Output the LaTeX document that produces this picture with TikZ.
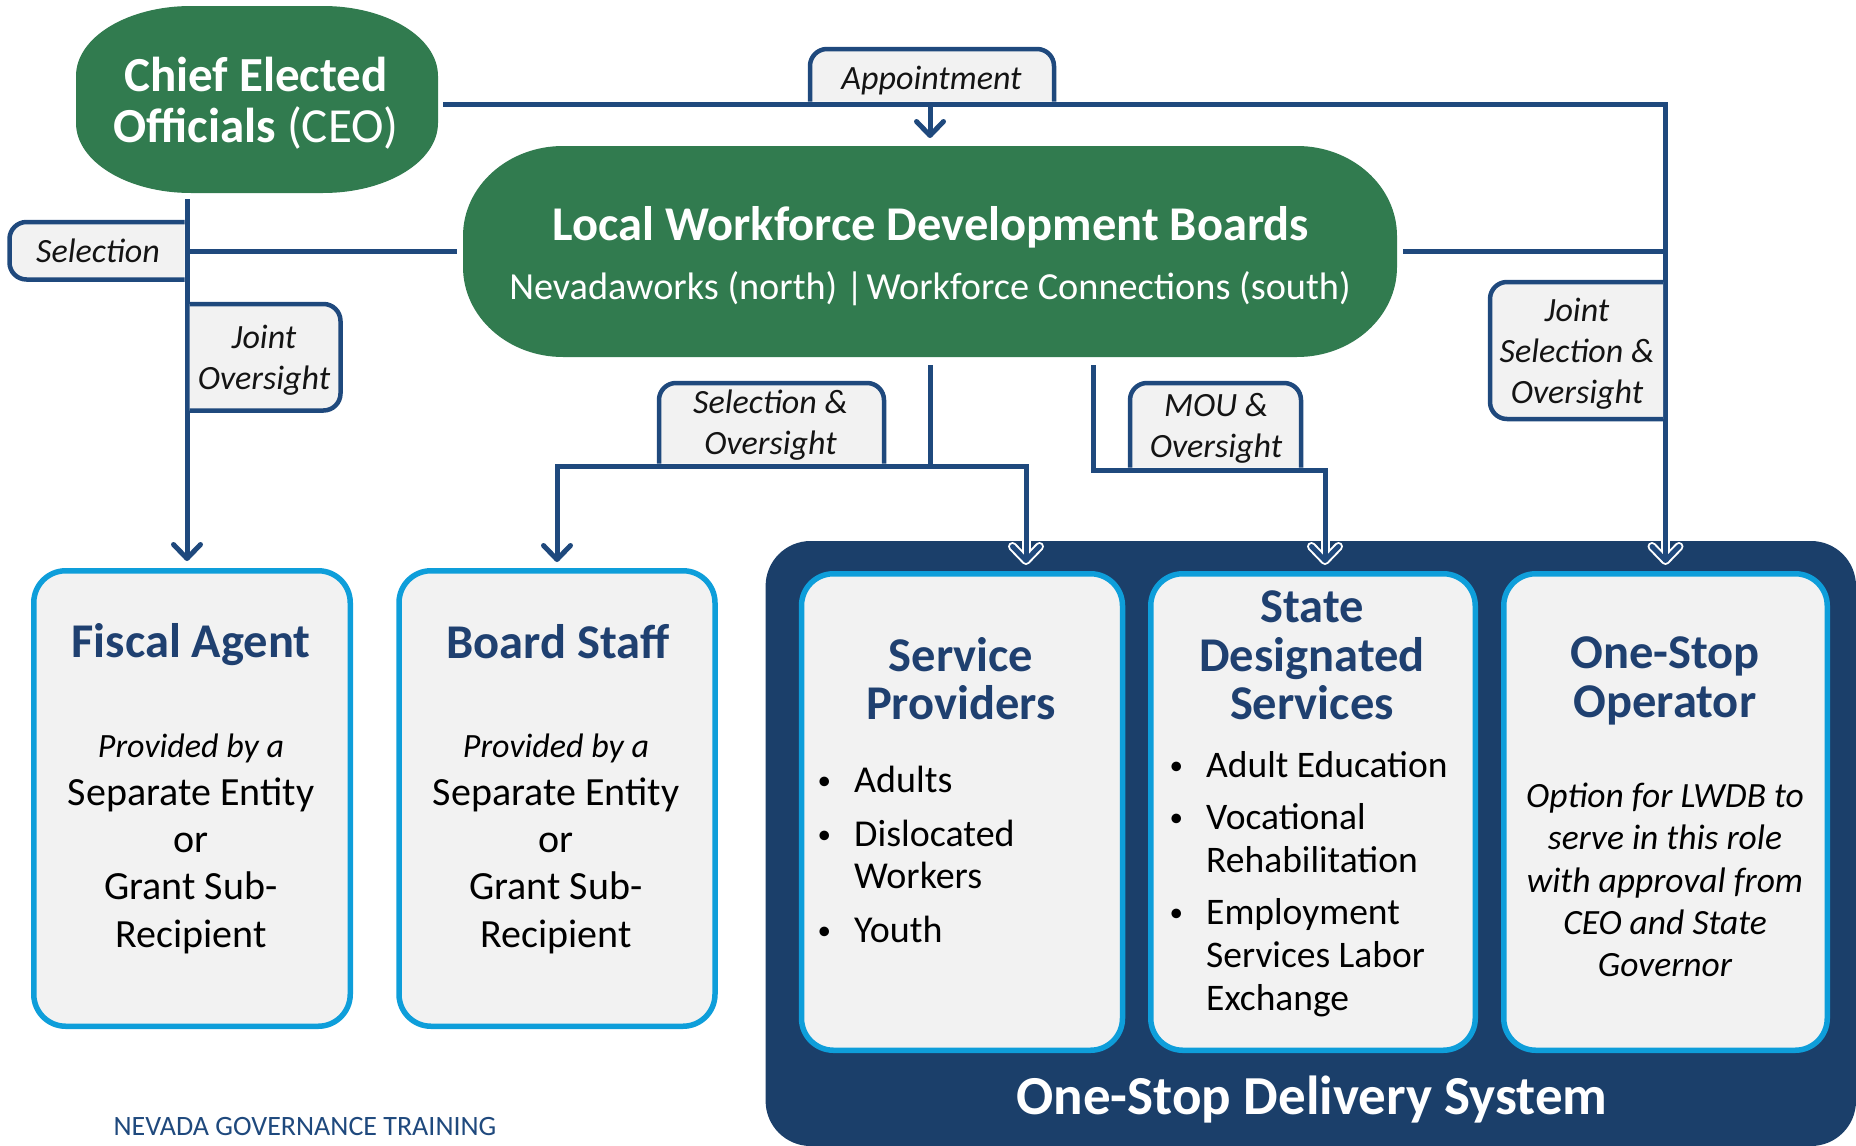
\documentclass[tikz,border=0pt]{standalone}
\usepackage{fontspec}
\setmainfont{Carlito}
\usetikzlibrary{arrows.meta}
\definecolor{ceogreen}{RGB}{49,123,79}
\definecolor{linenavy}{RGB}{31,73,125}
\definecolor{darkbox}{RGB}{27,63,106}
\definecolor{boxblue}{RGB}{14,158,218}
\definecolor{titlenavy}{RGB}{31,64,112}
\definecolor{boxfill}{RGB}{242,242,242}
\definecolor{labeltext}{RGB}{20,20,20}
\newcommand\bulmark{\makebox[39.5pt][l]{\hspace{3pt}\raisebox{3pt}{\fontsize{27}{27}\selectfont\textbullet}}}
\newcommand\bulgap{\hspace*{39.5pt}}
\begin{document}
\begin{tikzpicture}[x=1pt,y=-1pt,
  conn/.style={draw=linenavy,line width=5pt},
  arr/.style={conn,-{Straight Barb[length=14pt,width=27pt,round]}},
  halo/.style={preaction={draw=white,line width=9pt,shorten >=6pt}},
  geo/.style={inner sep=0pt,outer sep=0pt},
  lblbox/.style={fill=boxfill,draw=linenavy,line width=4.5pt,rounded corners=17pt},
  lbltext/.style={font=\fontsize{34}{41}\selectfont\itshape,text=labeltext,align=center,inner sep=0pt},
  bigbox/.style={draw=boxblue,fill=boxfill,line width=5.5pt,rounded corners=32pt,inner sep=0pt},
  titletext/.style={font=\fontsize{48.5}{48.5}\selectfont\bfseries,text=titlenavy,align=center,inner sep=0pt},
  bodytext/.style={font=\fontsize{40}{47.3}\selectfont,text=black,align=center,inner sep=0pt},
  bultext/.style={font=\fontsize{38}{42}\selectfont,text=black,inner sep=0pt},
  italtext/.style={font=\fontsize{35.5}{42.3}\selectfont\itshape,text=black,align=center,inner sep=0pt},
  whitetext/.style={text=white,inner sep=0pt,align=center}
]
\useasboundingbox (0,0) rectangle (1856,1146);

% One-Stop Delivery System container
\node[geo,fill=darkbox,rounded corners=45pt,minimum width=1090.4,minimum height=605] (osds) at (1310.8,843.5) {};

% bottom boxes
\node[bigbox,minimum width=316.5,minimum height=455.5] (fiscal) at (192,798.5) {};
\node[bigbox,minimum width=316,minimum height=455.5] (board) at (557,798.5) {};
\node[bigbox,minimum width=321,minimum height=476.5] (sp) at (962,812) {};
\node[bigbox,minimum width=324.5,minimum height=476.5] (sds) at (1313,812) {};
\node[bigbox,minimum width=323.5,minimum height=476.5] (oso) at (1665.5,812) {};

% CEO and LWDB shapes
\node[geo,minimum width=362,minimum height=187] (ceo) at (257,99.5) {};
\node[geo,minimum width=934,minimum height=211] (lwdb) at (930,251.5) {};
\fill[ceogreen] (191,6) -- (323,6) .. controls (386.5,6) and (438,37.3) .. (438,76) -- (438,123) .. controls (438,161.7) and (386.5,193) .. (323,193) -- (191,193) .. controls (127.5,193) and (76,161.7) .. (76,123) -- (76,76) .. controls (76,37.3) and (127.5,6) .. (191,6) -- cycle;
\fill[ceogreen] (563,146) -- (1297,146) .. controls (1352.2,146) and (1397,186.3) .. (1397,236) -- (1397,267) .. controls (1397,316.7) and (1352.2,357) .. (1297,357) -- (563,357) .. controls (507.8,357) and (463,316.7) .. (463,267) -- (463,236) .. controls (463,186.3) and (507.8,146) .. (563,146) -- cycle;

% helper coordinates
\coordinate (topline) at ([yshift=-4.5pt]ceo.east);
\coordinate (selx) at ([xshift=-5pt]fiscal.north);
\coordinate (midj) at ([yshift=-109pt]lwdb.south);
\coordinate (moutop) at ([xshift=163pt]lwdb.south);

% connectors with white halo (arrows into the dark container)
\draw[arr,halo,shorten <=5pt,shorten >=8pt] (topline) -| (oso.north);
\draw[arr,halo,shorten >=8pt] (midj) -| ([xshift=64pt]sp.north);
\draw[arr,halo,shorten <=8pt,shorten >=8pt] (moutop) -- ++(0,113) -| ([xshift=12pt]sds.north);

% other connectors
\draw[arr,shorten >=8pt] (topline -| lwdb.north) -- (lwdb.north);
\draw[arr,shorten <=6pt,shorten >=7pt] (selx |- ceo.south) -- (selx);
\draw[conn,shorten >=6pt] (selx |- lwdb.west) -- (lwdb.west);
\draw[conn,shorten <=6pt] (lwdb.east) -- (lwdb.east -| oso.north);
\draw[arr,shorten <=8pt,shorten >=6pt] (lwdb.south) -- (midj) -| (board.north);

% label boxes
\path[lblbox] (810,101.5) -- (810,49) -- (1054,49) -- (1054,101.5);
\path[lblbox] (184.5,222) -- (9.5,222) -- (9.5,279.5) -- (184.5,279.5);
\path[lblbox] (189.5,304) -- (340.5,304) -- (340.5,410.5) -- (189.5,410.5);
\path[lblbox] (1663,282) -- (1490,282) -- (1490,419) -- (1663,419);
\path[lblbox] (659,463.5) -- (659,383) -- (884,383) -- (884,463.5);
\path[lblbox] (1130,467.5) -- (1130,383) -- (1301,383) -- (1301,467.5);

% label texts
\node[lbltext] (lblAppt) at (931.5,80.5) {Appointment};
\node[lbltext] (lblSel) at (98,251) {Selection};
\node[lbltext] (lblJO) at (264,360) {Joint\\Oversight};
\node[lbltext] (lblJSO) at (1577,354) {Joint\\Selection \&\\Oversight};
\node[lbltext] (lblSO) at (770.5,425.5) {Selection \&\\Oversight};
\node[lbltext] (lblMOU) at (1216,428) {MOU \&\\Oversight};

% CEO / LWDB texts
\node[whitetext,font=\fontsize{49}{51}\selectfont] (ceoT) at (256,103) {\textbf{Chief Elected}\\\textbf{Officials} (CEO)};
\node[whitetext,font=\fontsize{48.5}{50}\selectfont\bfseries] (lwdbT) at (931,227) {Local Workforce Development Boards};
\node[whitetext,font=\fontsize{38.3}{40}\selectfont] (lwdbS) at (930,289) {Nevadaworks (north) |\hspace{3pt}Workforce Connections (south)};

% box titles
\node[titletext] (fiscalT) at (191,645) {Fiscal Agent};
\node[titletext] (boardT) at (558,641.5) {Board Staff};
\node[titletext] (spT) at (961,678.5) {Service\\Providers};
\node[titletext] (sdsT) at (1312,655.5) {State\\Designated\\Services};
\node[titletext] (osoT) at (1665,681) {One-Stop\\Operator};

% box bodies
\node[bodytext] (fiscalB) at (191,844) {{\itshape\fontsize{34}{47.3}\selectfont Provided by a}\\Separate Entity\\or\\Grant Sub-\\Recipient};
\node[bodytext] (boardB) at (556,844) {{\itshape\fontsize{34}{47.3}\selectfont Provided by a}\\Separate Entity\\or\\Grant Sub-\\Recipient};
\node[bultext,anchor=base west] (spL) at (814.5,792) {\begin{tabular}[t]{@{}l@{}}\bulmark Adults\\[12pt]\bulmark Dislocated\\\bulgap Workers\\[12pt]\bulmark Youth\end{tabular}};
\node[bultext,anchor=base west] (sdsL) at (1166.5,777.5) {\fontsize{37.5}{43}\selectfont\begin{tabular}[t]{@{}l@{}}\bulmark Adult Education\\[9pt]\bulmark Vocational\\\bulgap Rehabilitation\\[9pt]\bulmark Employment\\\bulgap Services Labor\\\bulgap Exchange\end{tabular}};
\node[italtext] (osoB) at (1665,880) {Option for LWDB to\\serve in this role\\with approval from\\CEO and State\\Governor};

% container caption and footer
\node[whitetext,font=\fontsize{55}{58}\selectfont\bfseries] (osdsT) at (1312,1100) {One-Stop Delivery System};
\node[inner sep=0pt,text=linenavy,font=\fontsize{28}{30}\selectfont] (footer) at (305,1126) {NEVADA GOVERNANCE TRAINING};
\end{tikzpicture}
\end{document}
